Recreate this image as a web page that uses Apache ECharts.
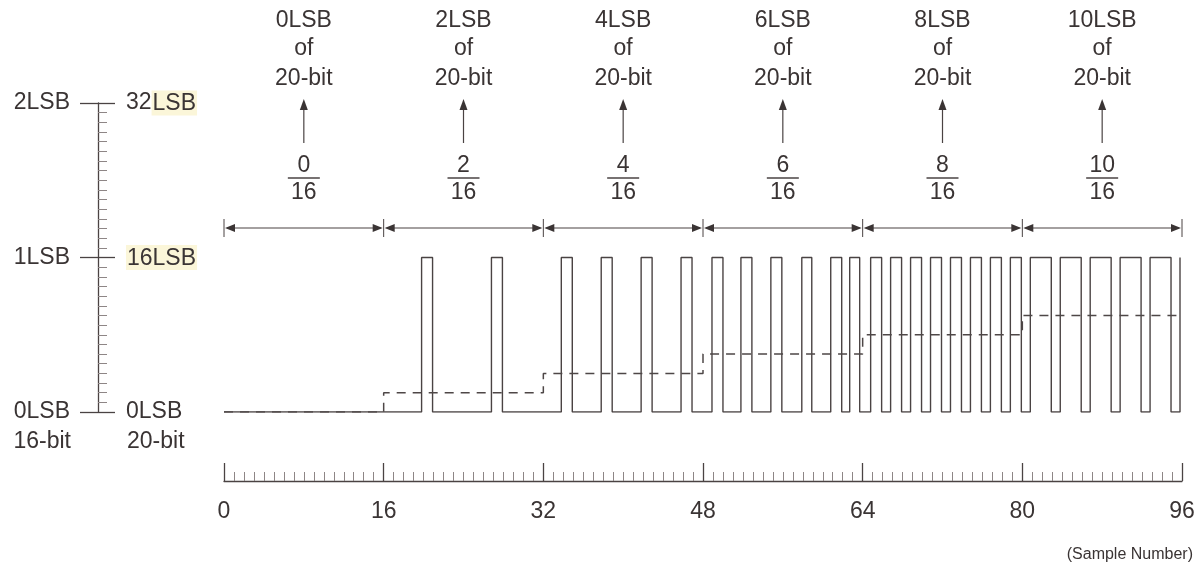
<!DOCTYPE html>
<html>
<head>
<meta charset="utf-8">
<script src="https://cdn.jsdelivr.net/npm/echarts@6/dist/echarts.min.js"></script>
<style>
  html, body { margin: 0; padding: 0; background: #ffffff; }
  #chart { width: 1201px; height: 567px; }
</style>
</head>
<body>
<div id="chart"></div>
<script>
// Sample-number ticks along the bottom axis
const sampleTicks = [0, 16, 32, 48, 64, 80, 96];
// Start sample of each 16-sample block and the dithered average it carries (20-bit LSBs)
const blockStarts = [0, 16, 32, 48, 64, 80];
const blockAverages = [0, 2, 4, 6, 8, 10];
// Level of a high output sample in 20-bit LSBs (= 1 LSB of the 16-bit word)
const highLevel = 16;
// Vertical scale ticks in 20-bit LSBs
const levelTicks = [0, 16, 32];
// High pulses of the 16-bit output, [rise, fall] in sample numbers
const pulses = [
  [19.8, 20.9], [26.8, 27.9],
  [33.8, 34.9], [37.8, 38.9], [41.8, 42.9], [45.8, 46.9],
  [48.9, 50.0], [51.8, 52.9], [54.8, 55.9], [57.9, 58.9], [60.8, 61.9], [62.7, 63.7],
  [64.8, 65.9], [66.8, 67.9], [68.8, 69.9], [70.8, 71.9], [72.8, 73.9], [74.8, 75.9], [76.8, 77.9], [78.8, 79.9],
  [80.8, 82.9], [83.8, 85.9], [86.8, 88.9], [89.8, 91.9], [92.8, 94.9]
];
// Last rising edge at the right end of the record
const finalRise = 95.8;

const ink = '#4a4343';
const textInk = '#3a3434';
const faint = '#8e8686';
const font = '"Liberation Sans", Arial, Helvetica, sans-serif';

// Square wave as a polyline: low -> high -> low for every pulse
const wave = [[sampleTicks[0], 0]];
pulses.forEach(([r, f]) => {
  wave.push([r, 0], [r, highLevel], [f, highLevel], [f, 0]);
});
wave.push([finalRise, 0], [finalRise, highLevel]);

// Dashed running average, stepping at each block boundary
const average = [];
blockStarts.forEach((s, i) => {
  average.push([s, blockAverages[i]], [s + 16, blockAverages[i]]);
});

const blocks = blockStarts.map((s, i) => [s, blockAverages[i]]);

function annotate(params, api) {
  const s = api.value(0);
  const avg = api.value(1);
  const x0 = api.coord([s, 0])[0];
  const x1 = api.coord([s + 16, 0])[0];
  const cx = (x0 + x1) / 2;
  const txt = (t, x, y, size) => ({
    type: 'text',
    style: { text: t, x: x, y: y, align: 'center', verticalAlign: 'middle',
             fill: textInk, font: (size || 23) + 'px ' + font }
  });
  const seg = (xa, ya, xb, yb, w) => ({
    type: 'line', shape: { x1: xa, y1: ya, x2: xb, y2: yb },
    style: { stroke: ink, lineWidth: w || 1.2 }
  });
  const tri = (pts) => ({ type: 'polygon', shape: { points: pts }, style: { fill: '#3a3434' } });
  const dimY = 228;
  const children = [
    txt(avg + 'LSB', cx, 21),
    txt('of', cx, 49),
    txt('20-bit', cx, 79),
    seg(cx, 143, cx, 106, 1.2),
    tri([[cx, 99], [cx - 4, 110], [cx + 4, 110]]),
    txt(String(avg), cx, 166),
    seg(cx - 16, 178, cx + 16, 178, 1.3),
    txt(String(highLevel), cx, 193),
    seg(x0 + 3, dimY, x1 - 3, dimY, 1.1),
    tri([[x0 + 1, dimY], [x0 + 11, dimY - 4], [x0 + 11, dimY + 4]]),
    tri([[x1 - 1, dimY], [x1 - 11, dimY - 4], [x1 - 11, dimY + 4]]),
    seg(x0, dimY - 9, x0, dimY + 9, 1)
  ];
  if (params.dataIndex === blockStarts.length - 1) {
    children.push(seg(x1, dimY - 9, x1, dimY + 9, 1));
  }
  return { type: 'group', children: children };
}

const chart = echarts.init(document.getElementById('chart'), null, { renderer: 'canvas' });
chart.setOption({
  backgroundColor: '#ffffff',
  animation: false,
  textStyle: { fontFamily: font },
  grid: { left: 224, right: 19, top: 103, bottom: 155, containLabel: false },
  xAxis: {
    type: 'value',
    min: sampleTicks[0],
    max: sampleTicks[sampleTicks.length - 1],
    interval: sampleTicks[1] - sampleTicks[0],
    offset: 69,
    axisLine: { show: true, onZero: false, lineStyle: { color: ink, width: 1.3 } },
    axisTick: { show: true, inside: true, length: 18, lineStyle: { color: ink, width: 1.3 } },
    minorTick: { show: true, splitNumber: 16, length: 9, lineStyle: { color: faint, width: 1 } },
    axisLabel: { margin: 19, fontSize: 23, color: textInk, fontFamily: font },
    splitLine: { show: false }
  },
  yAxis: [
    {
      type: 'value',
      min: levelTicks[0],
      max: levelTicks[levelTicks.length - 1],
      interval: levelTicks[1] - levelTicks[0],
      position: 'left',
      offset: 126,
      axisLine: { show: true, onZero: false, lineStyle: { color: ink, width: 1.3 } },
      axisTick: { show: true, length: 18, lineStyle: { color: ink, width: 1.3 } },
      axisLabel: {
        margin: 28, fontSize: 23, color: textInk, fontFamily: font,
        formatter: v => (v / highLevel) + 'LSB'
      },
      splitLine: { show: false }
    },
    {
      type: 'value',
      min: levelTicks[0],
      max: levelTicks[levelTicks.length - 1],
      interval: levelTicks[1] - levelTicks[0],
      position: 'left',
      offset: 126,
      axisLine: { show: false, onZero: false },
      axisTick: { show: true, inside: true, length: 17, lineStyle: { color: ink, width: 1.3 } },
      minorTick: { show: true, splitNumber: 16, length: 9, lineStyle: { color: faint, width: 1 } },
      axisLabel: {
        inside: true, margin: 28, fontSize: 23, color: textInk, fontFamily: font,
        formatter: v => v === 32 ? '32{h|LSB}' : v === 16 ? '{h|16LSB}' : v + 'LSB',
        rich: {
          h: { fontSize: 23, color: textInk, fontFamily: font, backgroundColor: '#fbf6d9', padding: [2, 1, 0, 1] }
        }
      },
      splitLine: { show: false }
    }
  ],
  series: [
    {
      name: '16-bit output',
      type: 'line',
      data: wave,
      showSymbol: false,
      symbol: 'none',
      lineStyle: { color: ink, width: 1.4 },
      z: 3
    },
    {
      name: 'average',
      type: 'line',
      data: average,
      showSymbol: false,
      symbol: 'none',
      lineStyle: { color: '#4e4747', width: 1.5, type: [9, 7] },
      z: 4
    },
    {
      name: 'blocks',
      type: 'custom',
      coordinateSystem: 'cartesian2d',
      data: blocks,
      renderItem: annotate,
      clip: false,
      z: 5
    }
  ],
  graphic: [
    { type: 'text', x: 71, y: 442,
      style: { text: '16-bit', align: 'right', verticalAlign: 'middle', fill: textInk, font: '23px ' + font } },
    { type: 'text', x: 127, y: 442,
      style: { text: '20-bit', align: 'left', verticalAlign: 'middle', fill: textInk, font: '23px ' + font } },
    { type: 'text', x: 1193, y: 555,
      style: { text: '(Sample Number)', align: 'right', verticalAlign: 'middle', fill: textInk, font: '16px ' + font } }
  ]
});
</script>
</body>
</html>
